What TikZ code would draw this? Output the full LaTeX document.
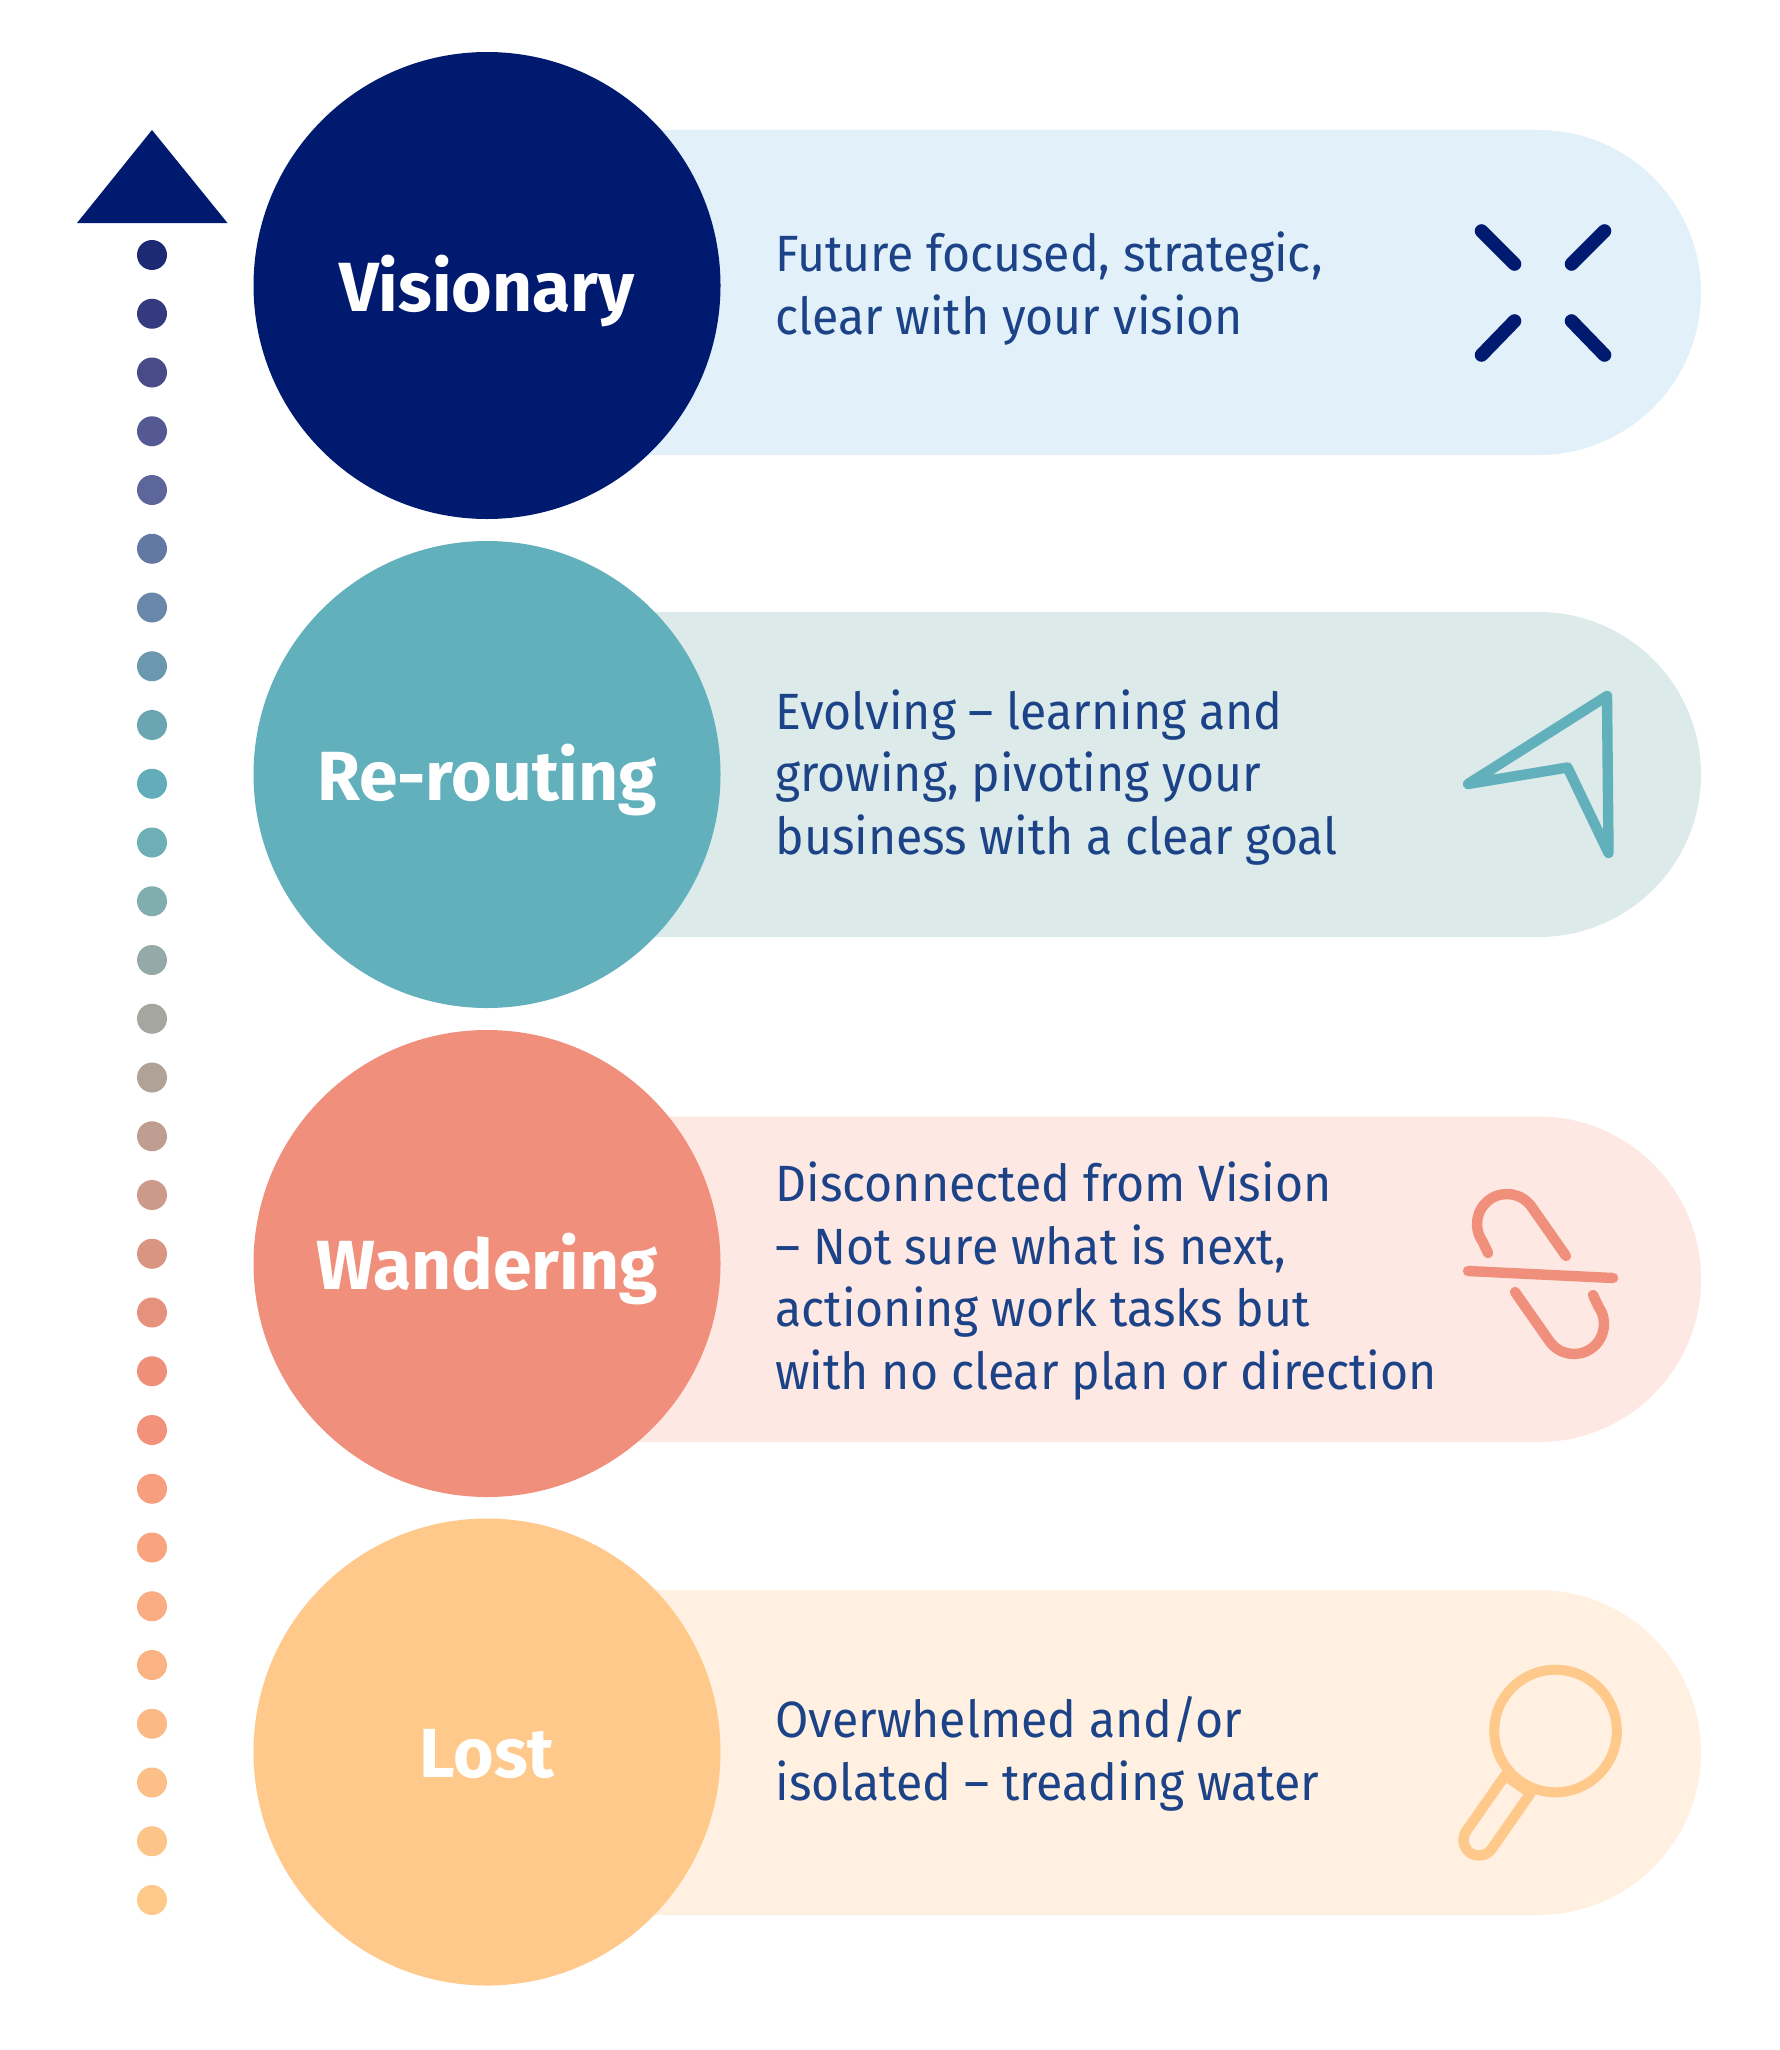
\documentclass[tikz,border=0pt]{standalone}
\usepackage{fontspec}
\setmainfont{Fira Sans}
\newfontfamily\descfont[FakeStretch=0.945]{Fira Sans}
\definecolor{navy}{HTML}{001A70}
\definecolor{teal1}{HTML}{62B0BC}
\definecolor{salmon}{HTML}{F08F7B}
\definecolor{peach}{HTML}{FEC98B}
\definecolor{barA}{HTML}{E2F0F9}
\definecolor{barB}{HTML}{DCEAEA}
\definecolor{barC}{HTML}{FDE8E3}
\definecolor{barD}{HTML}{FFF0E1}
\definecolor{txt}{HTML}{1C4388}
\tikzset{
  stagecirc/.style={circle,minimum size=467*0.5pt,inner sep=0pt,text=white,text height=28pt,text depth=2.5pt,font=\fontsize{34.8}{34.8}\selectfont\bfseries},
  desc/.style={anchor=west,align=left,text=txt,inner sep=0pt,font=\descfont\fontsize{25.5}{31.4}\selectfont},
  bar/.style={rounded corners=81.3pt},
  icon/.style={line width=5.2pt,line cap=round,line join=round},
  dotn/.style={circle,minimum size=30*0.5pt,inner sep=0pt}
}
\begin{document}
\begin{tikzpicture}[x=0.5pt,y=-0.5pt]
\useasboundingbox (0,0) rectangle (1779,2050);
\fill[white] (0,0) rectangle (1779,2050);
% bars
\fill[barA,bar] (486,130) rectangle (1701,455);
\fill[barB,bar] (486,612) rectangle (1701,937);
\fill[barC,bar] (486,1116.5) rectangle (1701,1442);
\fill[barD,bar] (486,1590) rectangle (1701,1915);
% circles
\node[stagecirc,fill=navy] (vis) at (487,285.5) {Visionary};
\node[stagecirc,fill=teal1] (rer) at (487,774.5) {Re-routing};
\node[stagecirc,fill=salmon] (wan) at (487,1263.5) {Wandering};
\node[stagecirc,fill=peach] (los) at (487,1752) {Lost};
% descriptions
\node[desc] (d1) at (775,288.5) {Future focused, strategic,\\clear with your vision};
\node[desc] (d2) at (775,777.5) {Evolving – learning and\\growing, pivoting your\\business with a clear goal};
\node[desc] (d3) at (775,1281) {Disconnected from Vision\\– Not sure what is next,\\actioning work tasks but\\with no clear plan or direction};
\node[desc] (d4) at (775,1754) {Overwhelmed and/or\\isolated – treading water};
% icon 1
\begin{scope}[icon,navy,line width=6.8pt]
\draw (1481.5,231) -- (1514.5,264);
\draw (1604.5,231) -- (1571.5,264);
\draw (1481.5,355) -- (1514.5,321);
\draw (1604.5,355) -- (1571.5,321);
\end{scope}
% icon 2
\draw[icon,teal1] (1607,696) -- (1608.5,853) -- (1567.5,767.5) -- (1468,784) -- cycle;
% icon 3
\begin{scope}[icon,salmon]
\draw (1468,1271) -- (1613,1278);
\foreach \r in {0,180}{
  \draw[rotate around={\r:(1540.5,1274)}] (1488,1253) -- (1482.5,1241.3)
    .. controls (1472.9,1227.8) and (1476.2,1209.1) .. (1489.7,1199.5)
    .. controls (1503.2,1189.9) and (1521.9,1193.2) .. (1531.5,1206.7)
    -- (1566,1256);
}
\end{scope}
% icon 4
\begin{scope}[icon,peach]
\draw[line width=5pt] (1555.5,1731) circle[radius=61.3];
\draw (1530.5,1793.2) -- (1491.7,1848.9)
  .. controls (1486.8,1855.9) and (1477.1,1857.6) .. (1470.1,1852.7)
  .. controls (1463.1,1847.8) and (1461.4,1838.1) .. (1466.3,1831.1)
  -- (1505.1,1775.4) -- cycle;
\end{scope}
% dots
\foreach \i/\c in {0/1B2A73,1/353A7E,2/484B88,3/545893,4/5C669B,5/6378A3,6/6A88AA,7/6C98AF,8/69A5B3,9/62ADB9,10/6EAEB5,11/82ADAE,12/95AAA8,13/A5A69F,14/B1A298,15/BF9D90,16/CC9A88,17/D99482,18/E6917C,19/EF8F7A,20/F3927A,21/F79E7E,22/F9A47F,23/FAAC82,24/FBB384,25/FCB986,26/FDBF88,27/FDC48A,28/FEC98B}{
  \definecolor{dotc}{HTML}{\c}
  \node[dotn,fill=dotc] (dot\i) at (152,{255+58.75*\i}) {};
}
\fill[navy] (152,130) -- (227.5,223) -- (77,223) -- cycle;
\end{tikzpicture}
\end{document}
